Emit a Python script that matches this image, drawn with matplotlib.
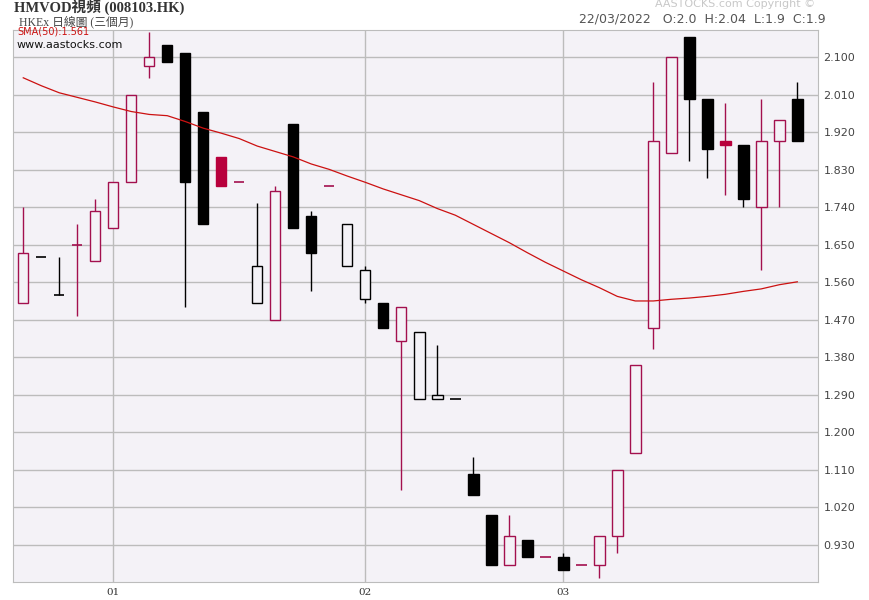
"""
HMVOD daily candlestick chart (3 months)
"""

import matplotlib
matplotlib.use("Agg")
import matplotlib.pyplot as plt
import numpy as np

opens = [1.51, 1.62, 1.53, 1.65, 1.61, 1.69, 1.80, 2.08, 2.13, 2.11,
         1.97, 1.86, 1.80, 1.51, 1.47, 1.94, 1.72, 1.79, 1.60, 1.52,
         1.51, 1.42, 1.28, 1.28, 1.28, 1.10, 1.00, 0.88, 0.94, 0.90,
         0.90, 0.88, 0.88, 0.95, 1.15, 1.45, 1.87, 2.15, 2.00, 1.90,
         1.89, 1.74, 1.90, 2.00]
highs = [1.74, 1.62, 1.62, 1.70, 1.76, 1.80, 2.01, 2.16, 2.13, 2.11,
         1.97, 1.86, 1.80, 1.75, 1.79, 1.94, 1.73, 1.79, 1.70, 1.60,
         1.51, 1.50, 1.44, 1.41, 1.28, 1.14, 1.00, 1.00, 0.94, 0.90,
         0.91, 0.88, 0.95, 1.11, 1.36, 2.04, 2.10, 2.15, 2.00, 1.99,
         1.89, 2.00, 1.95, 2.04]
lows = [1.51, 1.62, 1.53, 1.48, 1.61, 1.69, 1.80, 2.05, 2.09, 1.50,
        1.70, 1.79, 1.80, 1.51, 1.47, 1.69, 1.54, 1.79, 1.60, 1.51,
        1.45, 1.06, 1.28, 1.28, 1.28, 1.05, 0.88, 0.88, 0.90, 0.90,
        0.87, 0.88, 0.85, 0.91, 1.15, 1.40, 1.87, 1.85, 1.81, 1.77,
        1.74, 1.59, 1.74, 1.90]
closes = [1.63, 1.62, 1.53, 1.65, 1.73, 1.80, 2.01, 2.10, 2.09, 1.80,
          1.70, 1.79, 1.80, 1.60, 1.78, 1.69, 1.63, 1.79, 1.70, 1.59,
          1.45, 1.50, 1.44, 1.29, 1.28, 1.05, 0.88, 0.95, 0.90, 0.90,
          0.87, 0.88, 0.95, 1.11, 1.36, 1.90, 2.10, 2.00, 1.88, 1.89,
          1.76, 1.90, 1.95, 1.90]
sma50 = [2.051, 2.032, 2.015, 2.004, 1.993, 1.981, 1.970, 1.963, 1.960, 1.946,
         1.930, 1.918, 1.905, 1.887, 1.874, 1.861, 1.844, 1.831, 1.815, 1.800,
         1.784, 1.770, 1.756, 1.737, 1.721, 1.699, 1.677, 1.655, 1.631, 1.608,
         1.587, 1.566, 1.547, 1.526, 1.515, 1.515, 1.519, 1.522, 1.526, 1.531,
         1.538, 1.544, 1.554, 1.561]

month_idx = [5, 19, 30]
month_labels = ["01", "02", "03"]
y_ticks = [0.93, 1.02, 1.11, 1.20, 1.29, 1.38, 1.47, 1.56, 1.65, 1.74,
           1.83, 1.92, 2.01, 2.10]

BG = "#f4f2f7"
GRID = "#bcbcbc"
UP = "#a3104e"
UP_FILL = "#b8003c"
DOWN = "#000000"
SERIF_CJK = ["Liberation Serif", "Noto Sans CJK TC"]

fig = plt.figure(figsize=(8.7, 6), dpi=100, facecolor="white")
ax = fig.add_axes([13 / 870, 18 / 600, 805 / 870, 552.5 / 600])
ax.set_facecolor(BG)

n = len(closes)
x = np.arange(n)
w = 0.58
for i in range(n):
    o, h, l, c = opens[i], highs[i], lows[i], closes[i]
    prev = closes[i - 1] if i > 0 else o
    col = UP if c >= prev else DOWN
    ax.vlines(i, l, h, color=col, linewidth=1, zorder=2)
    if abs(c - o) < 1e-9:
        ax.hlines(c, i - w / 2, i + w / 2, color=col, linewidth=1.2, zorder=3)
    elif c < o:
        face = UP_FILL if col == UP else DOWN
        ax.bar(i, o - c, bottom=c, width=w, facecolor=face, edgecolor=face,
               linewidth=1, zorder=3)
    else:
        ax.bar(i, c - o, bottom=o, width=w, facecolor=BG, edgecolor=col,
               linewidth=1, zorder=3)

ax.plot(x, sma50, color="#cc1111", linewidth=0.9, zorder=4)

ax.set_xlim(-0.57, 44.15)
ax.set_ylim(0.84, 2.167)
ax.set_xticks(month_idx)
ax.set_xticklabels(month_labels, fontsize=7.5, color="#333333", family="DejaVu Serif")
ax.set_yticks(y_ticks)
ax.set_yticklabels([f"{v:.3f}" for v in y_ticks], fontsize=8, color="#444444")
ax.yaxis.tick_right()
ax.tick_params(length=0, pad=4)
ax.grid(True, color=GRID, linewidth=1)
ax.set_axisbelow(True)
for spine in ax.spines.values():
    spine.set_color(GRID)

fig.text(14 / 870, 1 - 7 / 600, "HMVOD視頻 (008103.HK)", fontsize=10.5,
         fontweight="bold", color="#333333", va="center", family=SERIF_CJK)
fig.text(19 / 870, 1 - 21.5 / 600, "HKEx 日線圖 (三個月)", fontsize=8.5,
         color="#444444", va="center", family=SERIF_CJK)
fig.text(17 / 870, 1 - 32 / 600, "SMA(50):1.561", fontsize=7, color="#cc1111",
         va="center")
fig.text(17 / 870, 1 - 45 / 600, "www.aastocks.com", fontsize=8, color="#111111",
         va="center")
fig.text(826 / 870, 1 - 19 / 600, "22/03/2022   O:2.0  H:2.04  L:1.9  C:1.9",
         fontsize=9, color="#555555", va="center", ha="right")
fig.text(815 / 870, 1 - 4 / 600, "AASTOCKS.com Copyright ©", fontsize=8,
         color="#c8c8c8", va="center", ha="right")

fig.savefig("out.png", dpi=100, facecolor=fig.get_facecolor())
plt.close(fig)
